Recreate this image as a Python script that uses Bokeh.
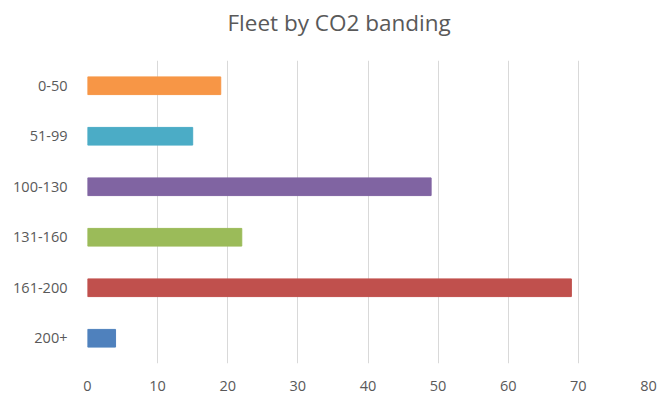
from bokeh.plotting import figure
from bokeh.layouts import column
from bokeh.models import ColumnDataSource, FactorRange, Range1d, FixedTicker, Label
from bokeh.embed import file_html
from bokeh.resources import INLINE

title_text = "Fleet by CO2 banding"
bands = ["0-50", "51-99", "100-130", "131-160", "161-200", "200+"]
counts = [19, 15, 49, 22, 69, 4]
colors = ["#F79646", "#4BACC6", "#8064A2", "#9BBB59", "#C0504D", "#4F81BD"]
x_ticks = [0, 10, 20, 30, 40, 50, 60, 70, 80]

# title strip (its frame is aligned with the chart frame by the column layout)
t = figure(width=658, height=60, output_backend="svg", toolbar_location=None,
           x_range=Range1d(0, 1), y_range=Range1d(0, 1),
           min_border=0, min_border_left=0, min_border_right=0,
           min_border_top=0, min_border_bottom=0)
t.axis.visible = False
t.grid.visible = False
t.outline_line_color = None
t.border_fill_color = "white"
t.add_layout(Label(x=140, y=38, x_units="screen", y_units="screen", text=title_text,
                   text_font="Open Sans", text_font_size="22.5px", text_color="#595959",
                   text_align="left", text_baseline="middle"))

src = ColumnDataSource(dict(band=bands, count=counts, color=colors))

p = figure(width=658, height=343, output_backend="svg", toolbar_location=None,
           y_range=FactorRange(factors=list(reversed(bands)), range_padding=0),
           x_range=Range1d(0, 80),
           min_border_left=87, min_border_right=10, min_border_top=0, min_border_bottom=40)

p.hbar(y="band", right="count", left=0, height=0.35, color="color", source=src)

p.outline_line_color = None
p.background_fill_color = "white"
p.border_fill_color = "white"

p.xaxis.ticker = FixedTicker(ticks=x_ticks)
p.xaxis.axis_line_color = None
p.xaxis.major_tick_line_color = None
p.xaxis.minor_tick_line_color = None
p.xaxis.major_label_text_font = "Open Sans"
p.xaxis.major_label_text_font_size = "14.5px"
p.xaxis.major_label_text_color = "#595959"
p.xaxis.major_label_standoff = 11

p.yaxis.axis_line_color = None
p.yaxis.major_tick_line_color = None
p.yaxis.minor_tick_line_color = None
p.yaxis.major_label_text_font = "Open Sans"
p.yaxis.major_label_text_font_size = "14.5px"
p.yaxis.major_label_text_color = "#595959"
p.yaxis.major_label_standoff = 14

p.xgrid.grid_line_color = "#D9D9D9"
p.xgrid.grid_line_width = 1
p.ygrid.grid_line_color = None

layout = column(t, p, spacing=0)
open("out.html", "w").write(file_html(layout, INLINE))
